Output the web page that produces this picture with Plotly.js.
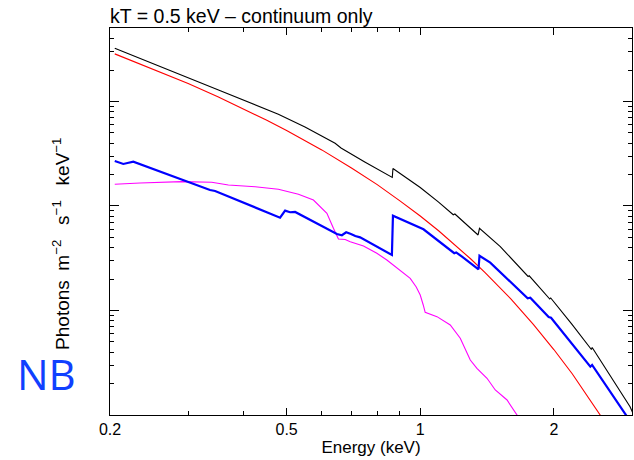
<!DOCTYPE html>
<html>
<head>
<meta charset="utf-8">
<script src="https://cdn.plot.ly/plotly-3.0.1.min.js"></script>
<style>html,body{margin:0;padding:0;background:#fff;}#chart{width:634px;height:460px;}</style>
</head>
<body>
<div id="chart"></div>
<script>
// Energy (keV) and flux (arbitrary log units)
const redE = [0.205, 0.25, 0.3, 0.35, 0.4, 0.45, 0.5, 0.6, 0.7, 0.8, 0.9, 1.0, 1.1, 1.2, 1.3, 1.4, 1.5, 1.6, 1.8, 2.0, 2.2, 2.4, 2.6, 2.8, 3.0];
const redY = [2.854, 2.047, 1.483, 1.109, 0.851, 0.665, 0.528, 0.344, 0.231, 0.160, 0.112, 0.0802, 0.0579, 0.0423, 0.0311, 0.0230, 0.0172, 0.0129, 0.00732, 0.00423, 0.00248, 0.00146, 0.00087, 0.00052, 0.000315];

const blackE = [0.205, 0.2756, 0.35, 0.479, 0.55, 0.643, 0.663, 0.75, 0.865, 0.868, 1.0, 1.1, 1.187, 1.197, 1.27, 1.35, 1.36, 1.515, 1.75, 1.76, 1.958, 1.968, 2.2, 2.43, 2.44, 2.7, 2.97, 3.05];
const blackY = [3.228, 1.959, 1.294, 0.755, 0.570, 0.398, 0.359, 0.264, 0.1875, 0.2286, 0.1503, 0.1089, 0.0824, 0.0838, 0.0661, 0.0528, 0.0612, 0.0408, 0.02115, 0.02148, 0.01288, 0.01317, 0.00733, 0.004234, 0.004424, 0.00225, 0.0012, 0.00093];

const blueE = [0.205, 0.2143, 0.2257, 0.336, 0.345, 0.4833, 0.4961, 0.509, 0.5226, 0.649, 0.666, 0.681, 0.698, 0.714, 0.732, 0.745, 0.8633, 0.868, 1.017, 1.193, 1.205, 1.242, 1.353, 1.36, 1.438, 1.746, 1.770, 1.947, 1.971, 2.417, 2.439, 2.925, 3.0];
const blueY = [0.2698, 0.2523, 0.2655, 0.1422, 0.1393, 0.0773, 0.0902, 0.0871, 0.0877, 0.0540, 0.0525, 0.0560, 0.0540, 0.0516, 0.0501, 0.0480, 0.0340, 0.0807, 0.0598, 0.0353, 0.0359, 0.0327, 0.0248, 0.0334, 0.0287, 0.01309, 0.01325, 0.00866, 0.00853, 0.0029, 0.00301, 0.000963, 0.00082];

const magE = [0.205, 0.2337, 0.2902, 0.339, 0.3696, 0.4246, 0.479, 0.5316, 0.5746, 0.6162, 0.6374, 0.6542, 0.6775, 0.6955, 0.745, 0.7985, 0.841, 0.886, 0.9494, 0.9795, 1.0, 1.0157, 1.026, 1.0906, 1.1685, 1.2308, 1.2634, 1.2964, 1.342, 1.414, 1.476, 1.569, 1.652, 1.725];
const magY = [0.1614, 0.1660, 0.1709, 0.1686, 0.1588, 0.1530, 0.1445, 0.1294, 0.1140, 0.0851, 0.0612, 0.0483, 0.0478, 0.0455, 0.0414, 0.0353, 0.0304, 0.0254, 0.0203, 0.0168, 0.01407, 0.01129, 0.00961, 0.00873, 0.00727, 0.00542, 0.00419, 0.00336, 0.0028, 0.002245, 0.001735, 0.001392, 0.001, 0.000718];

const xTickVals = [0.2, 0.5, 1, 2];
const xTickText = ['0.2', '0.5', '1', '2'];
const xMinorVals = [0.3, 0.4, 0.6, 0.7, 0.8, 0.9, 3];
const yTickVals = [0.001, 0.01, 0.1, 1];
const yMinorMult = [2, 3, 4, 5, 6, 7, 8, 9];
const yMinorVals = [];
yTickVals.forEach(d => yMinorMult.forEach(m => yMinorVals.push(+(d * m).toPrecision(3))));

const titleText = 'kT = 0.5 keV \u2013 continuum only';
const xTitle = 'Energy (keV)';
const yTitle = 'Photons\u2002m<sup>\u22122</sup>\u2002 s<sup>\u22121</sup>\u2002 keV<sup>\u22121</sup>';
const noteText = 'NB';

const font = 'Liberation Sans, Arial, Helvetica, sans-serif';

const traces = [
  {x: redE, y: redY, mode: 'lines', line: {color: '#ff0000', width: 1.1}},
  {x: magE, y: magY, mode: 'lines', line: {color: '#ff00ff', width: 1.1}},
  {x: blackE, y: blackY, mode: 'lines', line: {color: '#000000', width: 1.1}},
  {x: blueE, y: blueY, mode: 'lines', line: {color: '#0000ff', width: 2.2}}
];

const layout = {
  width: 634, height: 460,
  margin: {l: 110, r: 2, t: 28, b: 45, pad: 0},
  paper_bgcolor: '#ffffff', plot_bgcolor: '#ffffff',
  showlegend: false,
  font: {family: font, color: '#000'},
  title: {text: titleText, x: 0, xref: 'paper', xanchor: 'left', y: 0.965, yref: 'container', yanchor: 'middle',
          font: {family: font, size: 19.5, color: '#000'}},
  xaxis: {
    type: 'log', range: [Math.log10(0.2), Math.log10(3.0)],
    tickmode: 'array', tickvals: xTickVals, ticktext: xTickText,
    ticks: 'inside', ticklen: 7, tickwidth: 1, tickcolor: '#000',
    showline: true, linecolor: '#000', linewidth: 1, mirror: 'allticks',
    showgrid: false, zeroline: false,
    tickfont: {family: font, size: 16, color: '#000'},
    minor: {tickmode: 'array', tickvals: xMinorVals, ticks: 'inside', ticklen: 4, tickwidth: 1, tickcolor: '#000', showgrid: false},
    title: {text: xTitle, font: {family: font, size: 17, color: '#000'}, standoff: 1}
  },
  yaxis: {
    type: 'log', range: [-3, 0.703],
    tickmode: 'array', tickvals: yTickVals,
    showticklabels: false,
    ticks: 'inside', ticklen: 9, tickwidth: 1, tickcolor: '#000',
    showline: true, linecolor: '#000', linewidth: 1, mirror: 'allticks',
    showgrid: false, zeroline: false,
    minor: {tickmode: 'array', tickvals: yMinorVals, ticks: 'inside', ticklen: 4, tickwidth: 1, tickcolor: '#000', showgrid: false}
  },
  annotations: [
    {text: yTitle, xref: 'paper', yref: 'paper', x: -0.094, y: 0.442, textangle: -90,
     showarrow: false, xanchor: 'center', yanchor: 'middle', font: {family: font, size: 19, color: '#000'}},
    {text: noteText, xref: 'paper', yref: 'paper', x: -0.1207, y: 0.106,
     showarrow: false, xanchor: 'center', yanchor: 'middle', font: {family: 'Open Sans, Noto Sans, sans-serif', size: 42, color: '#1040ff'}}
  ]
};

Plotly.newPlot('chart', traces, layout, {staticPlot: true, displayModeBar: false});
</script>
</body>
</html>
